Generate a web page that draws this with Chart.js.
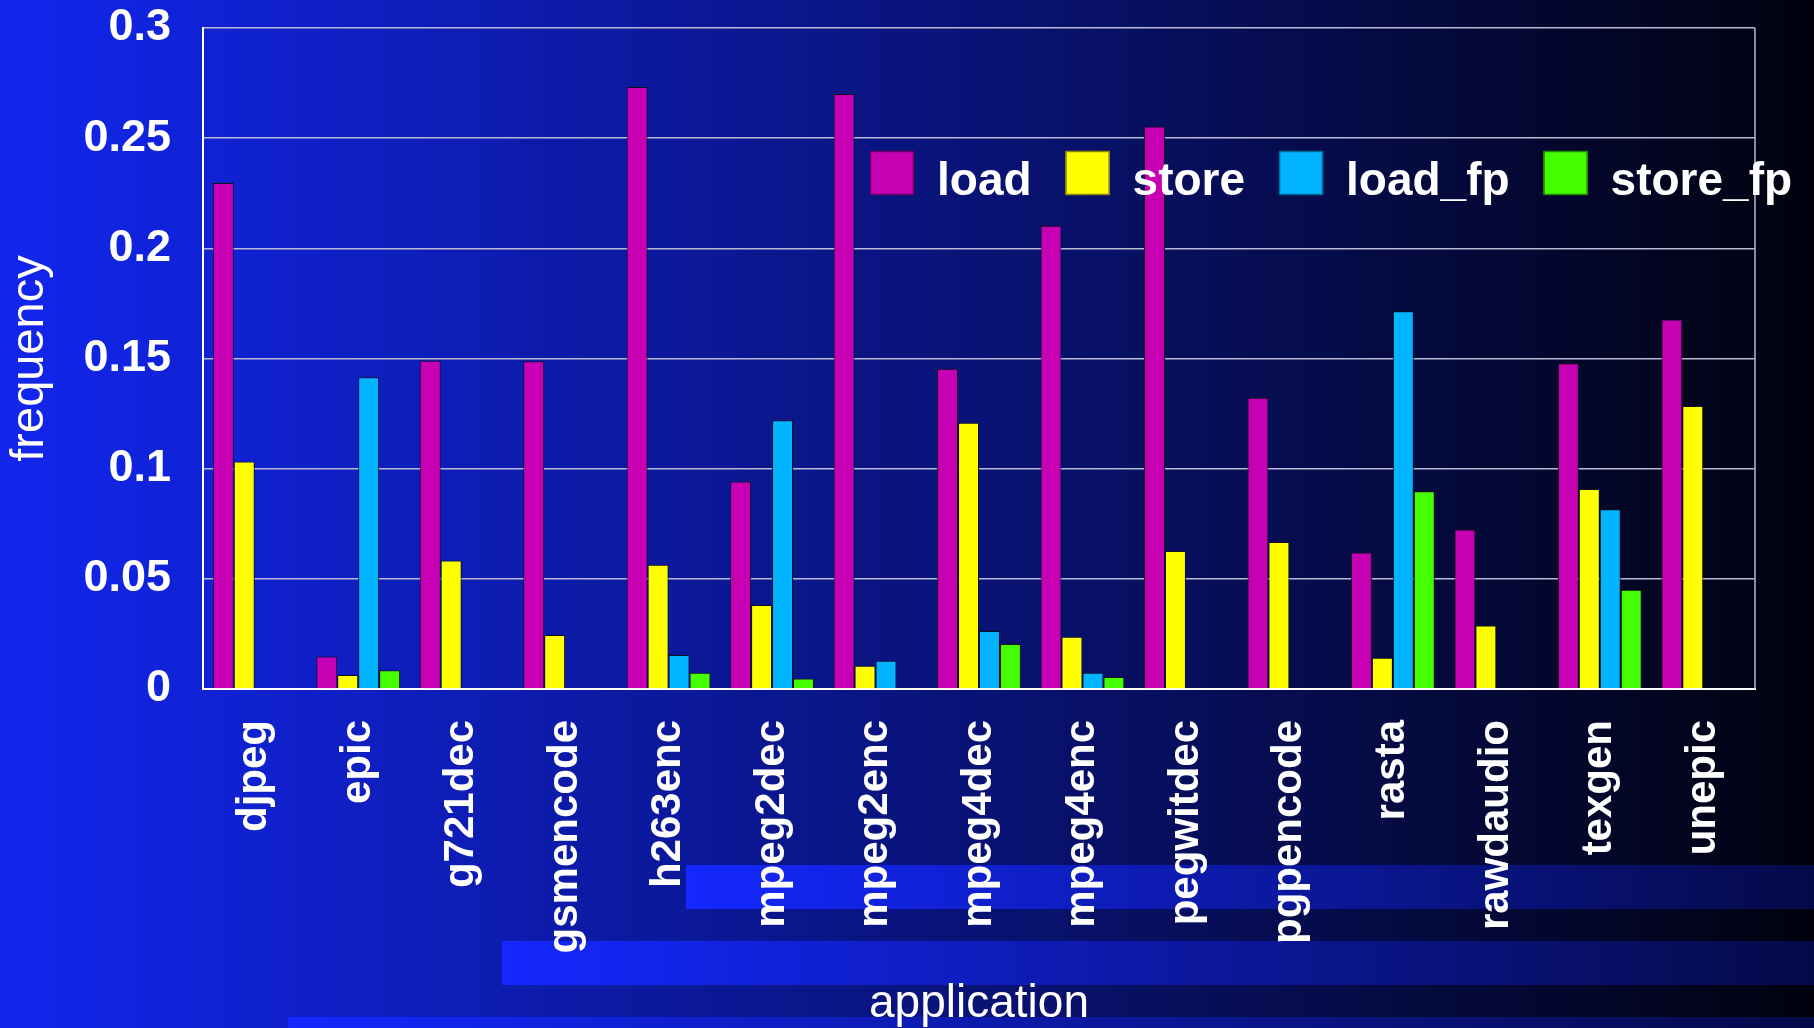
<!DOCTYPE html>
<html>
<head>
<meta charset="utf-8">
<script src="https://cdn.jsdelivr.net/npm/chart.js@4.4.1/dist/chart.umd.min.js"></script>
<style>
  html, body { margin: 0; padding: 0; background: #000; overflow: hidden; }
  #wrap { width: 1814px; height: 1028px; }
</style>
</head>
<body>
<div id="wrap"><canvas id="memChart" width="1814" height="1028"></canvas></div>
<script>
const applications = [
  "djpeg", "epic", "g721dec", "gsmencode", "h263enc", "mpeg2dec", "mpeg2enc",
  "mpeg4dec", "mpeg4enc", "pegwitdec", "pgpencode", "rasta", "rawdaudio",
  "texgen", "unepic",
];

const loadFreq = [
  0.2297, 0.0147, 0.149, 0.1487, 0.2732, 0.0942, 0.27, 0.1453, 0.2103, 0.2553,
  0.1322, 0.062, 0.0724, 0.1478, 0.1677,
];
const storeFreq = [
  0.1033, 0.0064, 0.0583, 0.0245, 0.0564, 0.0381, 0.0106, 0.1208, 0.0237,
  0.0626, 0.0667, 0.0142, 0.0288, 0.0908, 0.1284,
];
const loadFpFreq = [
  0, 0.1415, 0, 0, 0.0154, 0.122, 0.0128, 0.0263, 0.0074, 0, 0, 0.1714, 0,
  0.0816, 0,
];
const storeFpFreq = [
  0, 0.0085, 0, 0, 0.0074, 0.0048, 0.0006, 0.0204, 0.0054, 0, 0, 0.0897, 0,
  0.0451, 0,
];

const yTickLabels = ["0", "0.05", "0.1", "0.15", "0.2", "0.25", "0.3"];

const FONT = "'Liberation Sans', Arial, Helvetica, sans-serif";

// blue-to-black backdrop with the lighter stripes along the bottom
const backdropPlugin = {
  id: "backdrop",
  beforeDraw(chart) {
    const { ctx, width, height } = chart;
    ctx.save();
    const bg = ctx.createLinearGradient(0, 0, width, 0);
    bg.addColorStop(0, "rgb(18,38,238)");
    bg.addColorStop(1, "rgb(1,2,14)");
    ctx.fillStyle = bg;
    ctx.fillRect(0, 0, width, height);

    const stripes = [
      [686, 865, 44],
      [502, 941, 44],
      [288, 1017, 11],
    ];
    stripes.forEach(([x, y, h]) => {
      const g = ctx.createLinearGradient(x, 0, width, 0);
      g.addColorStop(0, "rgb(20,40,255)");
      g.addColorStop(1, "rgb(4,10,72)");
      ctx.fillStyle = g;
      ctx.fillRect(x, y, width - x, h);
    });
    ctx.restore();
  },
};

// close the plot box on the right side
const frameEdgePlugin = {
  id: "frameEdge",
  beforeDatasetsDraw(chart) {
    const { ctx, chartArea } = chart;
    ctx.save();
    ctx.strokeStyle = "#b9b9d6";
    ctx.lineWidth = 1.5;
    ctx.beginPath();
    ctx.moveTo(chartArea.right, chartArea.top);
    ctx.lineTo(chartArea.right, chartArea.bottom);
    ctx.stroke();
    ctx.restore();
  },
};

// legend laid out in one row across the upper right of the plot
const rowLegendPlugin = {
  id: "rowLegend",
  afterDraw(chart) {
    const { ctx } = chart;
    const box = 44;
    ctx.save();
    ctx.font = `bold 46px ${FONT}`;
    ctx.textBaseline = "alphabetic";
    ctx.textAlign = "left";
    let x = 870;
    chart.data.datasets.forEach((ds) => {
      ctx.fillStyle = ds.backgroundColor;
      ctx.fillRect(x, 151, box, box);
      ctx.strokeStyle = ds.legendEdge;
      ctx.lineWidth = 1.5;
      ctx.strokeRect(x + 0.5, 151.5, box - 1, box - 1);
      x += box + 23;
      ctx.fillStyle = "#ffffff";
      ctx.fillText(ds.label, x, 195);
      x += ctx.measureText(ds.label).width + 34;
    });
    ctx.restore();
  },
};

function makeSet(label, data, color, edge) {
  return {
    label,
    data,
    backgroundColor: color,
    borderColor: "#10101a",
    borderWidth: 1,
    legendEdge: edge,
    barPercentage: 1.0,
    categoryPercentage: 0.81,
  };
}

const ctx = document.getElementById("memChart").getContext("2d");
new Chart(ctx, {
  type: "bar",
  data: {
    labels: applications,
    datasets: [
      makeSet("load", loadFreq, "#c800b4", "#6e0064"),
      makeSet("store", storeFreq, "#ffff00", "#8a8a00"),
      makeSet("load_fp", loadFpFreq, "#00b4ff", "#006a90"),
      makeSet("store_fp", storeFpFreq, "#44ff00", "#228a00"),
    ],
  },
  options: {
    responsive: false,
    devicePixelRatio: 1,
    animation: false,
    layout: { padding: { top: 28, right: 59, left: 0, bottom: 0 } },
    plugins: {
      legend: { display: false },
      tooltip: { enabled: false },
    },
    scales: {
      x: {
        grid: { display: false, drawTicks: false },
        border: { display: true, color: "#ffffff", width: 2 },
        ticks: {
          color: "#ffffff",
          font: { family: FONT, size: 42, weight: "bold" },
          minRotation: 90,
          maxRotation: 90,
          autoSkip: false,
          padding: 31,
        },
        title: {
          display: true,
          text: "application",
          color: "#ffffff",
          font: { family: FONT, size: 46, lineHeight: 1 },
          padding: { top: 0, bottom: 1 },
        },
        afterFit(scale) {
          scale.height = 339;
          scale.paddingLeft = 0;
          scale.paddingRight = 0;
        },
      },
      y: {
        min: 0,
        max: 0.3,
        ticks: {
          stepSize: 0.05,
          color: "#ffffff",
          font: { family: FONT, size: 45, weight: "bold", lineHeight: 1 },
          padding: 32,
          callback: (v, i) => yTickLabels[i],
        },
        grid: { color: "#b9b9d6", lineWidth: 1.5, drawTicks: false },
        border: { color: "#ffffff", width: 2 },
        title: {
          display: true,
          text: "frequency",
          color: "#ffffff",
          font: { family: FONT, size: 47 },
          padding: { top: 2, bottom: 0 },
        },
        afterFit(scale) {
          scale.width = 203;
          scale.paddingTop = 0;
          scale.paddingBottom = 0;
        },
      },
    },
  },
  plugins: [backdropPlugin, frameEdgePlugin, rowLegendPlugin],
});
</script>
</body>
</html>
